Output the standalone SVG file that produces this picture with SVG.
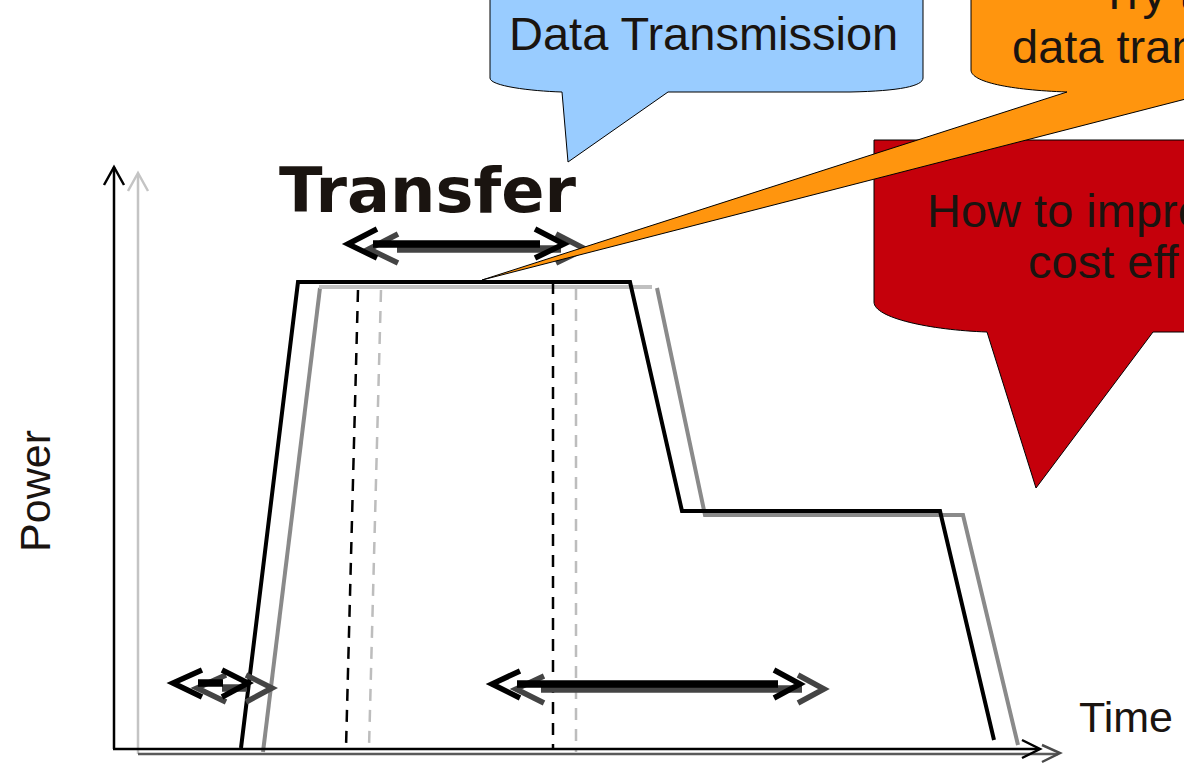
<svg xmlns="http://www.w3.org/2000/svg" width="1184" height="766" viewBox="0 0 1184 766">
  <style>
    .txt { font-family: "Liberation Sans", Arial, sans-serif; fill: #1a1410; }
    .big { font-size: 47px; }
    .axis { fill: none; stroke-width: 2.5; }
    .curve { fill: none; stroke-width: 4; stroke-linejoin: miter; }
    .dash { fill: none; stroke-width: 2.5; stroke-dasharray: 12 9; }
    .chev { fill: none; stroke-width: 5.5; stroke-linejoin: miter; stroke-linecap: butt; }
    .shaft { stroke-width: 7.5; }
    .callout { stroke: #000; stroke-width: 1; }
  </style>

  <rect width="1184" height="766" fill="#fff"/>

  <!-- shifted (grey) copy of the chart -->
  <g id="chart-shifted">
    <path class="axis" stroke="#c4c4c4" d="M138,754 V174"/>
    <polyline class="axis" stroke="#c4c4c4" points="128,191 138,173 148,191"/>
    <path class="axis" stroke="#5a5a5a" d="M138,754 H1058"/>
    <polyline class="axis" stroke="#4a4a4a" stroke-width="3" points="1042,745 1060,753 1042,762"/>
    <polyline class="curve" stroke="#8a8a8a" points="263,752 320,288"/>
    <path class="curve" stroke="#c0c0c0" d="M319,287 H652"/>
    <polyline class="curve" stroke="#8a8a8a" points="657,288 705,515 963,515 1018,745"/>
    <path class="dash" stroke="#bdbdbd" d="M381,290 L369,748"/>
    <path class="dash" stroke="#bdbdbd" d="M576,288 V752"/>
  </g>

  <!-- base (black) chart -->
  <g id="chart-base">
    <path class="axis" stroke="#000" d="M114,749 V167"/>
    <polyline class="axis" stroke="#000" stroke-width="3" points="104,185 114,167 124,185"/>
    <path class="axis" stroke="#000" d="M113,749 H1038"/>
    <polyline class="axis" stroke="#000" stroke-width="3" points="1022,740 1040,749 1022,758"/>
    <polyline class="curve" stroke="#000" points="241,748 298,282 630,282 682,511 940,511 994,740"/>
    <path class="dash" stroke="#000" d="M358,290 L346,748"/>
    <path class="dash" stroke="#000" d="M553,282 V748"/>
  </g>

  <!-- double-headed interval arrows -->
  <g id="connectors">
    <g id="arrow-transfer">
      <g transform="translate(21,5)" stroke="#444">
        <path class="shaft" d="M376,244 H540"/>
        <polyline class="chev" points="377,229 348,244 377,258"/>
        <polyline class="chev" points="535,229 564,244 535,258"/>
      </g>
      <g stroke="#000">
        <path class="shaft" d="M373,244 H540"/>
        <polyline class="chev" points="377,229 348,244 377,258"/>
        <polyline class="chev" points="535,229 564,244 535,258"/>
      </g>
    </g>
    <g id="arrow-start">
      <g transform="translate(24,5)" stroke="#444">
        <path class="shaft" d="M198,683 H223"/>
        <polyline class="chev" points="202,670 173,683 202,697"/>
        <polyline class="chev" points="222,670 248,683 222,697"/>
      </g>
      <g stroke="#000">
        <path class="shaft" d="M198,683 H223"/>
        <polyline class="chev" points="202,670 173,683 202,697"/>
        <polyline class="chev" points="222,670 248,683 222,697"/>
      </g>
    </g>
    <g id="arrow-tail">
      <g transform="translate(24,5)" stroke="#444">
        <path class="shaft" d="M517,684 H778"/>
        <polyline class="chev" points="520,671 492,684 520,698"/>
        <polyline class="chev" points="774,670 800,684 774,698"/>
      </g>
      <g stroke="#000">
        <path class="shaft" d="M517,684 H778"/>
        <polyline class="chev" points="520,671 492,684 520,698"/>
        <polyline class="chev" points="774,670 800,684 774,698"/>
      </g>
    </g>
  </g>

  <!-- axis labels and title -->
  <g id="label-power">
    <text class="txt" font-size="43" transform="translate(50,491) rotate(-90)" text-anchor="middle">Power</text>
  </g>
  <g id="label-time">
    <text class="txt" font-size="43" x="1079" y="732">Time</text>
  </g>
  <g id="title-transfer">
    <text x="279" y="212" font-family="'DejaVu Sans', sans-serif" font-weight="bold" font-size="63" fill="#1a1410" textLength="297" lengthAdjust="spacingAndGlyphs">Transfer</text>
  </g>

  <!-- speech bubbles -->
  <g id="bubble-data">
    <path class="callout" fill="#99ccff" d="M490,-6 V78 C490,86 530,91 562,92 L568,162 L668,92 L850,92 C900,91 923,86 923,78 V-6 Z"/>
    <text class="txt big" x="509" y="50">Data Transmission</text>
  </g>
  <g id="bubble-cost">
    <path class="callout" fill="#c5000b" d="M874,140 V302 C874,318 930,330 987,332 L1036,488 L1153,332 H1200 V140 Z"/>
    <text class="txt big" x="927" y="227">How to impro</text>
    <text class="txt big" x="1028" y="278">cost eff</text>
  </g>
  <g id="bubble-try">
    <path class="callout" fill="#ff950e" d="M971,-10 V70 C971,82 1010,90 1067,92 L482,280 L1213,92 V-10 Z"/>
    <text class="txt big" x="1100" y="9">Try t</text>
    <text class="txt big" x="1012" y="63">data tran</text>
  </g>
</svg>
